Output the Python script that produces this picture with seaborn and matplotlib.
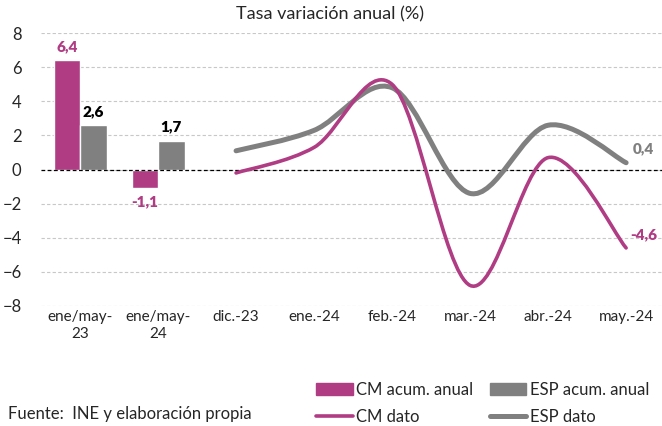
import numpy as np
import pandas as pd
import seaborn as sns
import matplotlib.pyplot as plt
from matplotlib.path import Path
from matplotlib.patches import PathPatch, Patch
from matplotlib.lines import Line2D

# datos
categories = ["ene/may-\n23", "ene/may-\n24", "dic.-23", "ene.-24",
              "feb.-24", "mar.-24", "abr.-24", "may.-24"]
acum_periods = ["ene/may-\n23", "ene/may-\n24"]
cm_acum = [6.4, -1.1]
esp_acum = [2.6, 1.7]
months = ["dic.-23", "ene.-24", "feb.-24", "mar.-24", "abr.-24", "may.-24"]
cm_dato = [-0.2, 1.3, 5.0, -6.8, 0.7, -4.6]
esp_dato = [1.1, 2.3, 4.8, -1.4, 2.6, 0.4]

CM_COLOR = "#B03C84"
ESP_COLOR = "#808080"


def fmt_es(v):
    return f"{v:.1f}".replace(".", ",")


def smooth_path(xs, ys):
    # curva suavizada tipo Excel (Bezier Catmull-Rom) que pasa por los puntos
    pts = np.column_stack([xs, ys]).astype(float)
    n = len(pts)
    verts, codes = [pts[0]], [Path.MOVETO]
    for i in range(n - 1):
        p0 = pts[i - 1] if i > 0 else pts[i]
        p1, p2 = pts[i], pts[i + 1]
        p3 = pts[i + 2] if i + 2 < n else pts[i + 1]
        verts += [p1 + (p2 - p0) / 6, p2 - (p3 - p1) / 6, p2]
        codes += [Path.CURVE4] * 3
    return Path(verts, codes)


sns.set_theme(style="white")
plt.rcParams['font.family'] = ['Lato', 'DejaVu Sans']

fig = plt.figure(figsize=(6.62, 4.26), dpi=100)
ax = fig.add_axes([0.062, 0.282, 0.938, 0.640])

bars = pd.DataFrame({
    'periodo': acum_periods * 2,
    'valor': cm_acum + esp_acum,
    'serie': ['CM acum. anual'] * 2 + ['ESP acum. anual'] * 2,
})
sns.barplot(data=bars, x='periodo', y='valor', hue='serie', order=categories,
            palette=[CM_COLOR, ESP_COLOR], width=0.68, saturation=1,
            legend=False, ax=ax)

ax.bar_label(ax.containers[0], fmt=fmt_es, padding=5, color=CM_COLOR,
             fontsize=11, fontweight='heavy')
ax.bar_label(ax.containers[1], fmt=fmt_es, padding=5, color='black',
             fontsize=11, fontweight='heavy')

xpos = [categories.index(m) for m in months]
ax.add_patch(PathPatch(smooth_path(xpos, esp_dato), fill=False,
                       edgecolor=ESP_COLOR, linewidth=3.6, capstyle='round', zorder=3))
ax.add_patch(PathPatch(smooth_path(xpos, cm_dato), fill=False,
                       edgecolor=CM_COLOR, linewidth=2.6, capstyle='round', zorder=4))

ax.text(xpos[-1] + 0.08, esp_dato[-1] + 0.8, fmt_es(esp_dato[-1]), color=ESP_COLOR,
        fontsize=11, fontweight='heavy', ha='left', va='center')
ax.text(xpos[-1] + 0.05, cm_dato[-1] + 0.75, fmt_es(cm_dato[-1]), color=CM_COLOR,
        fontsize=11, fontweight='heavy', ha='left', va='center')

ax.set_xlim(-0.5, 7.46)
ax.set_ylim(-8, 8)
ax.set_yticks(range(-8, 9, 2))
ax.yaxis.grid(True, color='#C8C8C8', linestyle=(0, (3, 2)), linewidth=0.8)
ax.set_axisbelow(True)
ax.axhline(0, color='black', linestyle=(0, (3, 2)), linewidth=0.9, zorder=2)
for s in ax.spines.values():
    s.set_visible(False)
ax.set_xlabel('')
ax.set_ylabel('')
ax.tick_params(axis='x', length=0, pad=3, labelsize=11)
ax.tick_params(axis='y', length=0, pad=14, labelsize=12)
for lab in ax.get_yticklabels():
    lab.set_horizontalalignment('right')
for lab in ax.get_xticklabels():
    lab.set_linespacing(1.3)

fig.text(0.4985, 0.967, "Tasa variación anual (%)", ha='center', va='center', fontsize=13)
fig.text(8 / 662, 1 - 414 / 426, "Fuente:  INE y elaboración propia",
         ha='left', va='center', fontsize=12)

handles = [Patch(color=CM_COLOR), Line2D([], [], color=CM_COLOR, lw=2.6),
           Patch(color=ESP_COLOR), Line2D([], [], color=ESP_COLOR, lw=3.6)]
labels = ['CM acum. anual', 'CM dato', 'ESP acum. anual', 'ESP dato']
fig.legend(handles, labels, ncol=2, loc='upper left', bbox_to_anchor=(316 / 662, 1 - 382 / 426),
           frameon=False, fontsize=12, handlelength=2.2, handletextpad=0.2,
           columnspacing=1.0, labelspacing=0.65, borderpad=0, borderaxespad=0)

plt.savefig('out.png', dpi=100)
